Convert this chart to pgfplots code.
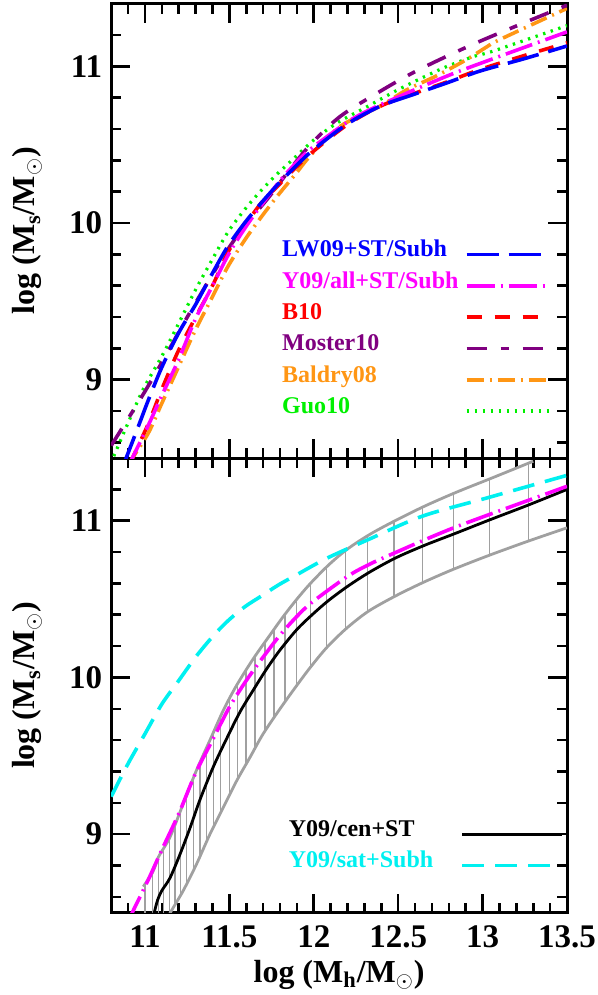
\documentclass[border=0pt]{standalone}
\usepackage{pgfplots}
\pgfplotsset{compat=1.18}
\usepackage{fontspec}
\setmainfont{Liberation Serif}
\definecolor{mpurple}{RGB}{128,0,128}
\definecolor{morange}{RGB}{255,150,20}
\definecolor{mgreen}{RGB}{0,240,0}
\definecolor{mgray}{RGB}{160,160,160}
\definecolor{mcyan}{RGB}{0,240,240}
\definecolor{mmag}{RGB}{255,0,255}
\definecolor{mblue}{RGB}{0,0,255}
\definecolor{mred}{RGB}{255,0,0}
\tikzset{
 lw/.style={mblue, line width=1.8pt, dash pattern=on 16pt off 5pt},
 yall/.style={mmag, line width=1.8pt, dash pattern=on 14pt off 3pt on 1pt off 3pt},
 bten/.style={mred, line width=1.8pt, dash pattern=on 7.5pt off 6.5pt},
 moster/.style={mpurple, line width=1.8pt, dash pattern=on 10pt off 7pt on 4pt off 7pt},
 baldry/.style={morange, line width=1.8pt, dash pattern=on 8.5pt off 3pt on 1pt off 3pt},
 guo/.style={mgreen, line width=1.6pt, dash pattern=on 1.2pt off 2.8pt},
 cen/.style={black, line width=1.4pt},
 sat/.style={mcyan, line width=1.8pt, dash pattern=on 11pt off 5.5pt},
 legtext/.style={anchor=base west, font=\fontsize{12}{12}\selectfont\bfseries, inner sep=0pt},
}
\pgfplotsset{
 myaxis/.style={
  scale only axis, width=227.9pt, height=227.2pt,
  xmin=10.8, xmax=13.5, ymin=8.5, ymax=11.4,
  xtick={11,11.5,12,12.5,13,13.5},
  minor xtick={10.9,11.1,11.2,11.3,11.4,11.6,11.7,11.8,11.9,12.1,12.2,12.3,12.4,12.6,12.7,12.8,12.9,13.1,13.2,13.3,13.4},
  ytick={9,10,11},
  minor ytick={8.6,8.8,9.2,9.4,9.6,9.8,10.2,10.4,10.6,10.8,11.2},
  tick align=inside, tick pos=both,
  major tick length=9.5pt, minor tick length=5pt,
  every tick/.style={line width=1.3pt, black},
  axis line style={line width=1.5pt},
  ticklabel style={font=\fontsize{16.5}{16.5}\selectfont\bfseries},
  /pgf/number format/assume math mode=true,
  xticklabel style={yshift=-3pt},
  yticklabel style={xshift=-1pt},
  label style={font=\fontsize{16}{16}\selectfont\bfseries},
  ylabel style={at={(axis description cs:-0.184,0.5)}, anchor=center},
  xlabel style={at={(axis description cs:0.5,-0.138)}, anchor=center},
  ylabel={log (M\textsubscript{s}/M\textsubscript{$\odot$})},
 }
}
\begin{document}
\begin{tikzpicture}
\useasboundingbox (-55.6pt,-41.25pt) rectangle (243.4pt,456.25pt);
% ---------------- bottom panel ----------------
\begin{axis}[myaxis, at={(0,0)}, anchor=south west,
  xlabel={log (M\textsubscript{h}/M\textsubscript{$\odot$})}]
\addplot[mgray, line width=0.6pt, unbounded coords=jump] coordinates {
(11.000,8.40) (11.000,8.680) (11.000,nan)
(11.047,8.40) (11.047,8.760) (11.047,nan)
(11.080,8.40) (11.080,8.855) (11.080,nan)
(11.109,8.42) (11.109,8.908) (11.109,nan)
(11.143,8.485) (11.143,8.970) (11.143,nan)
(11.178,8.550) (11.178,9.062) (11.178,nan)
(11.212,8.612) (11.212,9.154) (11.212,nan)
(11.247,8.683) (11.247,9.249) (11.247,nan)
(11.286,8.767) (11.286,9.356) (11.286,nan)
(11.326,8.858) (11.326,9.458) (11.326,nan)
(11.365,8.952) (11.365,9.552) (11.365,nan)
(11.405,9.043) (11.405,9.648) (11.405,nan)
(11.448,9.136) (11.448,9.752) (11.448,nan)
(11.500,9.247) (11.500,9.863) (11.500,nan)
(11.547,9.348) (11.547,9.957) (11.547,nan)
(11.599,9.446) (11.599,10.045) (11.599,nan)
(11.652,9.548) (11.652,10.135) (11.652,nan)
(11.711,9.658) (11.711,10.227) (11.711,nan)
(11.764,9.742) (11.764,10.305) (11.764,nan)
(11.829,9.844) (11.829,10.402) (11.829,nan)
(11.898,9.947) (11.898,10.497) (11.898,nan)
(11.980,10.065) (11.980,10.600) (11.980,nan)
(12.076,10.19) (12.076,10.706) (12.076,nan)
(12.190,10.31) (12.190,10.810) (12.190,nan)
(12.320,10.42) (12.320,10.904) (12.320,nan)
(12.475,10.515) (12.475,10.996) (12.475,nan)
(12.645,10.605) (12.645,11.087) (12.645,nan)
(12.826,10.69) (12.826,11.173) (12.826,nan)
(13.040,10.78) (13.040,11.266) (13.040,nan)
(13.270,10.87) (13.270,11.363) (13.270,nan)
};
\addplot[mgray, line width=1.4pt, smooth, tension=0.5] coordinates {
(10.99,8.665) (11.047,8.76) (11.08,8.855) (11.148,8.98) (11.227,9.195) (11.306,9.41)
(11.385,9.60) (11.464,9.79) (11.543,9.95) (11.642,10.12) (11.74,10.27) (11.82,10.39)
(11.90,10.50) (11.98,10.60) (12.09,10.72) (12.20,10.82) (12.335,10.915) (12.49,11.005)
(12.66,11.095) (12.84,11.18) (13.06,11.275) (13.30,11.38)};
\addplot[mgray, line width=1.4pt, smooth, tension=0.5] coordinates {
(11.12,8.43) (11.148,8.495) (11.227,8.64) (11.306,8.81) (11.385,9.0) (11.464,9.17)
(11.543,9.34) (11.622,9.49) (11.70,9.64) (11.80,9.80) (11.90,9.95) (11.98,10.065)
(12.076,10.19) (12.19,10.31) (12.32,10.42) (12.475,10.515) (12.645,10.605) (12.826,10.69)
(13.04,10.78) (13.27,10.87) (13.5,10.955)};
\addplot[cen, smooth, tension=0.5] coordinates {
(11.045,8.47) (11.055,8.50) (11.075,8.58) (11.10,8.64) (11.148,8.72) (11.207,8.87)
(11.267,9.04) (11.326,9.22) (11.405,9.43) (11.484,9.61) (11.563,9.78) (11.642,9.92)
(11.721,10.055) (11.80,10.175) (11.899,10.305) (11.99,10.40) (12.086,10.49) (12.205,10.585)
(12.335,10.675) (12.489,10.765) (12.66,10.845) (12.84,10.92) (13.04,11.005) (13.27,11.10)
(13.5,11.20)};
\addplot[yall, smooth, tension=0.5] coordinates {
(10.90,8.44) (10.925,8.50) (11.02,8.71) (11.10,8.90) (11.20,9.13) (11.30,9.39) (11.40,9.60)
(11.50,9.81) (11.60,9.98) (11.70,10.13) (11.80,10.27) (11.90,10.39) (11.99,10.48)
(12.20,10.645) (12.335,10.725) (12.49,10.80) (12.66,10.88) (12.84,10.96) (13.04,11.04)
(13.27,11.13) (13.5,11.22)};
\addplot[sat, smooth, tension=0.5] coordinates {
(10.80,9.24) (10.90,9.45) (11.00,9.64) (11.10,9.83) (11.20,9.98) (11.30,10.13) (11.40,10.26)
(11.49,10.36) (11.59,10.45) (11.69,10.52) (11.79,10.59) (11.89,10.65) (12.076,10.76)
(12.323,10.88) (12.645,11.03) (13.04,11.15) (13.5,11.29)};
% legend
\addplot[cen] coordinates {(12.88,9.0) (13.47,9.0)};
\addplot[sat] coordinates {(12.88,8.8) (13.40,8.8)};
\node[legtext, text=black] at (axis cs:11.85,8.985) {Y09/cen+ST};
\node[legtext, text=mcyan] at (axis cs:11.85,8.785) {Y09/sat+Subh};
\end{axis}
% ---------------- top panel ----------------
\begin{axis}[myaxis, at={(0,227.2pt)}, anchor=south west, xticklabels={}]
\addplot[guo, smooth, tension=0.5] coordinates {
(10.79,8.47) (10.81,8.50) (10.89,8.70) (10.99,8.94) (11.10,9.15) (11.20,9.36) (11.30,9.575)
(11.40,9.77) (11.49,9.94) (11.59,10.085) (11.69,10.21) (11.79,10.32) (11.89,10.42)
(12.00,10.53) (12.14,10.64) (12.32,10.745) (12.48,10.84) (12.64,10.926) (12.79,11.0)
(12.95,11.064) (13.07,11.10) (13.5,11.26)};
\addplot[baldry, smooth, tension=0.5] coordinates {
(10.90,8.45) (10.92,8.49) (11.02,8.66) (11.10,8.85) (11.20,9.085) (11.30,9.32) (11.40,9.53)
(11.49,9.72) (11.59,9.89) (11.69,10.04) (11.79,10.18) (11.89,10.31) (11.98,10.43)
(12.156,10.617) (12.392,10.745) (12.55,10.85) (12.72,10.936) (12.90,11.04) (13.03,11.128)
(13.10,11.17) (13.5,11.37)};
\addplot[moster, smooth, tension=0.5] coordinates {
(10.80,8.58) (10.98,8.89) (11.10,9.11) (11.24,9.38) (11.36,9.60) (11.49,9.83) (11.59,9.98)
(11.73,10.16) (11.85,10.33) (11.98,10.50) (12.156,10.68) (12.392,10.84) (12.589,10.96)
(12.787,11.064) (12.984,11.16) (13.25,11.28) (13.5,11.39)};
\addplot[bten, smooth, tension=0.5] coordinates {
(10.91,8.46) (10.93,8.51) (11.02,8.72) (11.10,8.94) (11.20,9.19) (11.30,9.40) (11.40,9.60)
(11.49,9.81) (11.59,9.98) (11.69,10.13) (11.79,10.24) (11.89,10.35) (12.00,10.46)
(12.195,10.625) (12.392,10.745) (12.589,10.825) (12.787,10.90) (12.984,10.98) (13.25,11.07)
(13.5,11.15)};
\addplot[yall, smooth, tension=0.5] coordinates {
(10.90,8.44) (10.925,8.50) (11.02,8.71) (11.10,8.90) (11.20,9.13) (11.30,9.39) (11.40,9.60)
(11.50,9.81) (11.60,9.98) (11.70,10.13) (11.80,10.27) (11.90,10.39) (11.99,10.48)
(12.20,10.645) (12.335,10.725) (12.49,10.80) (12.66,10.88) (12.84,10.96) (13.04,11.04)
(13.27,11.13) (13.5,11.22)};
\addplot[lw, smooth, tension=0.5] coordinates {
(10.87,8.45) (10.892,8.51) (10.96,8.70) (11.02,8.87) (11.10,9.08) (11.20,9.30) (11.30,9.48)
(11.40,9.68) (11.49,9.85) (11.59,10.00) (11.69,10.13) (11.79,10.25) (11.89,10.36)
(12.00,10.47) (12.195,10.63) (12.392,10.745) (12.589,10.82) (12.787,10.894) (12.984,10.97)
(13.25,11.05) (13.5,11.13)};
% legend
\addplot[lw] coordinates {(12.905,9.8) (13.40,9.8)};
\addplot[yall] coordinates {(12.905,9.6) (13.40,9.6)};
\addplot[bten] coordinates {(12.905,9.4) (13.40,9.4)};
\addplot[moster] coordinates {(12.905,9.2) (13.40,9.2)};
\addplot[baldry] coordinates {(12.905,9.0) (13.40,9.0)};
\addplot[guo] coordinates {(12.905,8.8) (13.40,8.8)};
\node[legtext, text=mblue] at (axis cs:11.81,9.785) {LW09+ST/Subh};
\node[legtext, text=mmag] at (axis cs:11.81,9.585) {Y09/all+ST/Subh};
\node[legtext, text=mred] at (axis cs:11.81,9.385) {B10};
\node[legtext, text=mpurple] at (axis cs:11.81,9.185) {Moster10};
\node[legtext, text=morange] at (axis cs:11.81,8.985) {Baldry08};
\node[legtext, text=mgreen] at (axis cs:11.81,8.785) {Guo10};
\end{axis}
\end{tikzpicture}
\end{document}
